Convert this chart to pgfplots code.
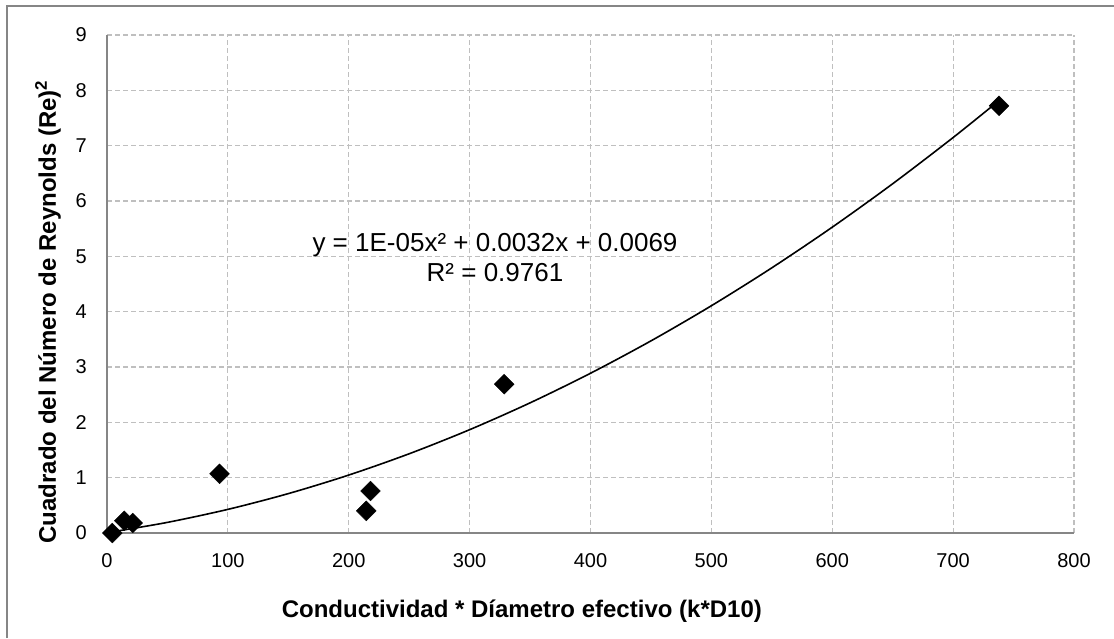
\documentclass[border=0pt]{standalone}
\usepackage{pgfplots}
\pgfplotsset{compat=1.18}
\usepackage{fontspec}
\setmainfont{Liberation Sans}
\definecolor{axgray}{HTML}{868686}
\definecolor{gridgray}{HTML}{BFBFBF}
\begin{document}
\begin{tikzpicture}[x=1pt,y=1pt]
\useasboundingbox (0,0) rectangle (1114,638);
\draw[axgray, line width=1.3pt] (7,0) -- (7,632) -- (1114,632);
\begin{axis}[
  at={(107pt,105pt)}, anchor=south west,
  scale only axis, width=967pt, height=498pt,
  xmin=0, xmax=800, ymin=0, ymax=9,
  xtick={0,100,...,800}, ytick={0,1,...,9},
  axis x line*=bottom, axis y line*=left,
  axis line style={axgray, line width=1.5pt, -},
  major tick length=0pt,
  grid=major,
  major grid style={gridgray, line width=1.2pt, dash pattern=on 5pt off 3pt},
  tick label style={font=\fontsize{20}{24}\selectfont, inner sep=0pt},
  /pgf/number format/assume math mode=true,
  xticklabel style={yshift=-20pt},
  yticklabel style={xshift=-20pt},
  xlabel={Conductividad * Díametro efectivo (k*D10)},
  ylabel={Cuadrado del Número de Reynolds (Re)\textsuperscript{2}},
  xlabel style={font=\fontsize{24}{28}\selectfont\bfseries, at={(axis description cs:0.429,-0.157)}, anchor=center},
  ylabel style={font=\fontsize{24}{28}\selectfont\bfseries, at={(axis description cs:-0.061,0.444)}, anchor=center, rotate=0},
  clip=false,
]
\addplot[black, line width=1.6pt, smooth] coordinates {
  (4,0.020) (50,0.192) (100,0.427) (150,0.712) (200,1.047) (250,1.432)
  (300,1.867) (350,2.352) (400,2.887) (450,3.472) (500,4.107) (550,4.792)
  (600,5.527) (650,6.312) (700,7.147) (738,7.815)
};
\addplot[only marks, mark=square*, mark size=7pt, mark options={rotate=45, fill=black, draw=black}] coordinates {
  (4.4,0.0) (14.3,0.22) (21.3,0.18) (93.1,1.07) (214.5,0.40) (218,0.76) (328.6,2.69) (738,7.72)
};
\node[font=\fontsize{26}{30}\selectfont, align=center] at (axis cs:321,4.97) {y = 1E-05x² + 0.0032x + 0.0069\\R² = 0.9761};
\end{axis}
\end{tikzpicture}
\end{document}
